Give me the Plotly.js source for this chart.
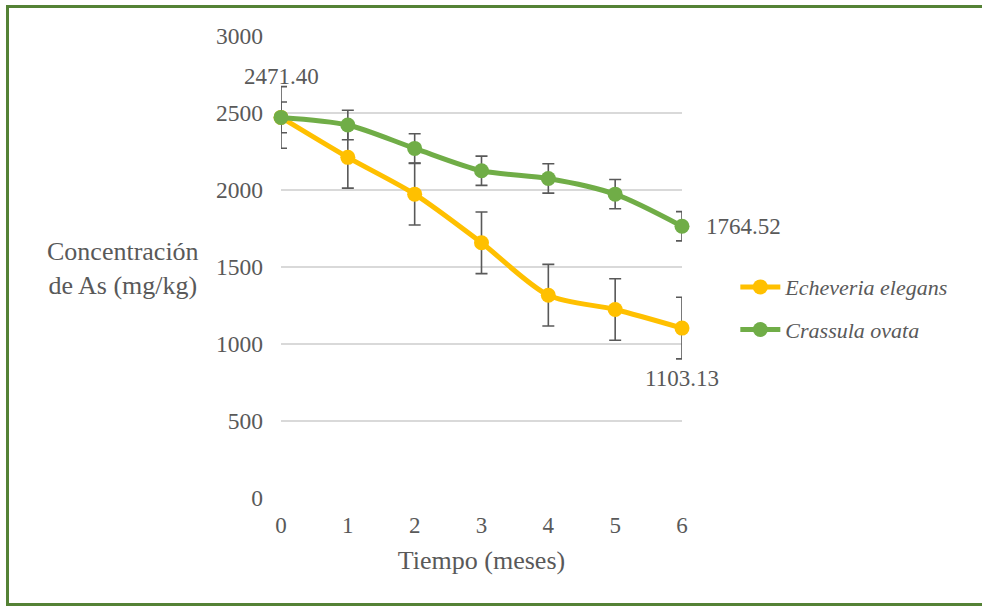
<!DOCTYPE html>
<html>
<head>
<meta charset="utf-8">
<script src="https://cdn.plot.ly/plotly-3.0.1.min.js"></script>
<style>
  html, body { margin: 0; padding: 0; background: #ffffff; overflow: hidden; }
  #chart { width: 982px; height: 609px; }
</style>
</head>
<body>
<div id="chart"></div>
<script>
// Arsenic concentration over time for two species
const months = [0, 1, 2, 3, 4, 5, 6];
const tickLabels = ['0', '1', '2', '3', '4', '5', '6'];
const echeveria = [2471.40, 2212, 1973, 1657, 1317, 1224, 1103.13];
const echeveriaErr = [200, 200, 200, 200, 200, 200, 200];
const crassula = [2471.40, 2422, 2270, 2125, 2075, 1973, 1764.52];
const crassulaErr = [100, 96, 95, 95, 95, 95, 95];
const yTicks = [0, 500, 1000, 1500, 2000, 2500, 3000];

const serif = 'Liberation Serif, Times New Roman, serif';
const textGrey = '#595959';

const errStyle = (arr) => ({
  type: 'data', array: arr, visible: true,
  color: '#595959', thickness: 1.6, width: 6
});

const traces = [
  {
    x: months, y: echeveria, name: '<i>Echeveria elegans</i>',
    type: 'scatter', mode: 'lines+markers',
    line: { color: '#FFC000', width: 5, shape: 'spline', smoothing: 0.8 },
    marker: { color: '#FFC000', size: 15 },
    error_y: errStyle(echeveriaErr),
    cliponaxis: false, legendgroup: 'a'
  },
  {
    x: months, y: crassula, name: '<i>Crassula ovata</i>',
    type: 'scatter', mode: 'lines+markers',
    line: { color: '#70AD47', width: 5, shape: 'spline', smoothing: 0.8 },
    marker: { color: '#70AD47', size: 15 },
    error_y: errStyle(crassulaErr),
    cliponaxis: false, legendgroup: 'b'
  }
];

const last = months.length - 1;
const labelFont = { family: serif, size: 23, color: textGrey };

// frame around the figure: left, top and bottom edges (paper coordinates)
const px = (v) => (v - 281) / 401;
const py = (v) => (498 - v) / 462;
const frame = { color: '#548235', width: 3 };
const frameLines = [
  [px(7.5), py(6.5), px(7.5), py(604.5)],
  [px(6), py(6.5), px(990), py(6.5)],
  [px(6), py(604.5), px(990), py(604.5)]
].map(([x0, y0, x1, y1]) => ({
  type: 'line', xref: 'paper', yref: 'paper', x0, y0, x1, y1, line: frame, layer: 'below'
}));

const layout = {
  width: 982, height: 609,
  margin: { l: 281, r: 300, t: 36, b: 111 },
  paper_bgcolor: '#ffffff', plot_bgcolor: '#ffffff',
  font: { family: serif, size: 23, color: textGrey },
  showlegend: true,
  legend: {
    x: 1.133, xanchor: 'left', y: 0.41, yanchor: 'middle',
    font: { family: serif, size: 22, color: textGrey },
    tracegroupgap: 11, traceorder: 'grouped', itemwidth: 40
  },
  xaxis: {
    range: [0, 6], tickvals: months, ticktext: tickLabels,
    showgrid: false, zeroline: false, showline: false, ticks: '',
    ticklabelstandoff: 11,
    tickfont: { family: serif, size: 23, color: textGrey },
    title: { text: 'Tiempo (meses)', font: { family: serif, size: 26, color: textGrey }, standoff: 13 }
  },
  yaxis: {
    range: [0, 3000], tickvals: yTicks,
    showgrid: true, gridcolor: '#D9D9D9', gridwidth: 1.5,
    zeroline: false, showline: false, ticks: '',
    ticklabelstandoff: 17,
    tickfont: { family: serif, size: 23.5, color: textGrey }
  },
  annotations: [
    {
      xref: 'paper', yref: 'paper', x: -0.395, y: 0.497,
      xanchor: 'center', yanchor: 'middle', showarrow: false, align: 'center',
      text: 'Concentración<br>de As (mg/kg)',
      font: { family: serif, size: 26, color: textGrey }
    },
    {
      x: months[0], y: crassula[0], text: crassula[0].toFixed(2),
      showarrow: false, xanchor: 'center', yanchor: 'middle', yshift: 41,
      font: labelFont
    },
    {
      x: months[last], y: crassula[last], text: crassula[last].toFixed(2),
      showarrow: false, xanchor: 'left', yanchor: 'middle', xshift: 22,
      font: labelFont
    },
    {
      x: months[last], y: echeveria[last], text: echeveria[last].toFixed(2),
      showarrow: false, xanchor: 'center', yanchor: 'middle', yshift: -50,
      font: labelFont
    }
  ],
  shapes: frameLines
};

Plotly.newPlot('chart', traces, layout, { displayModeBar: false, staticPlot: true });
</script>
</body>
</html>
